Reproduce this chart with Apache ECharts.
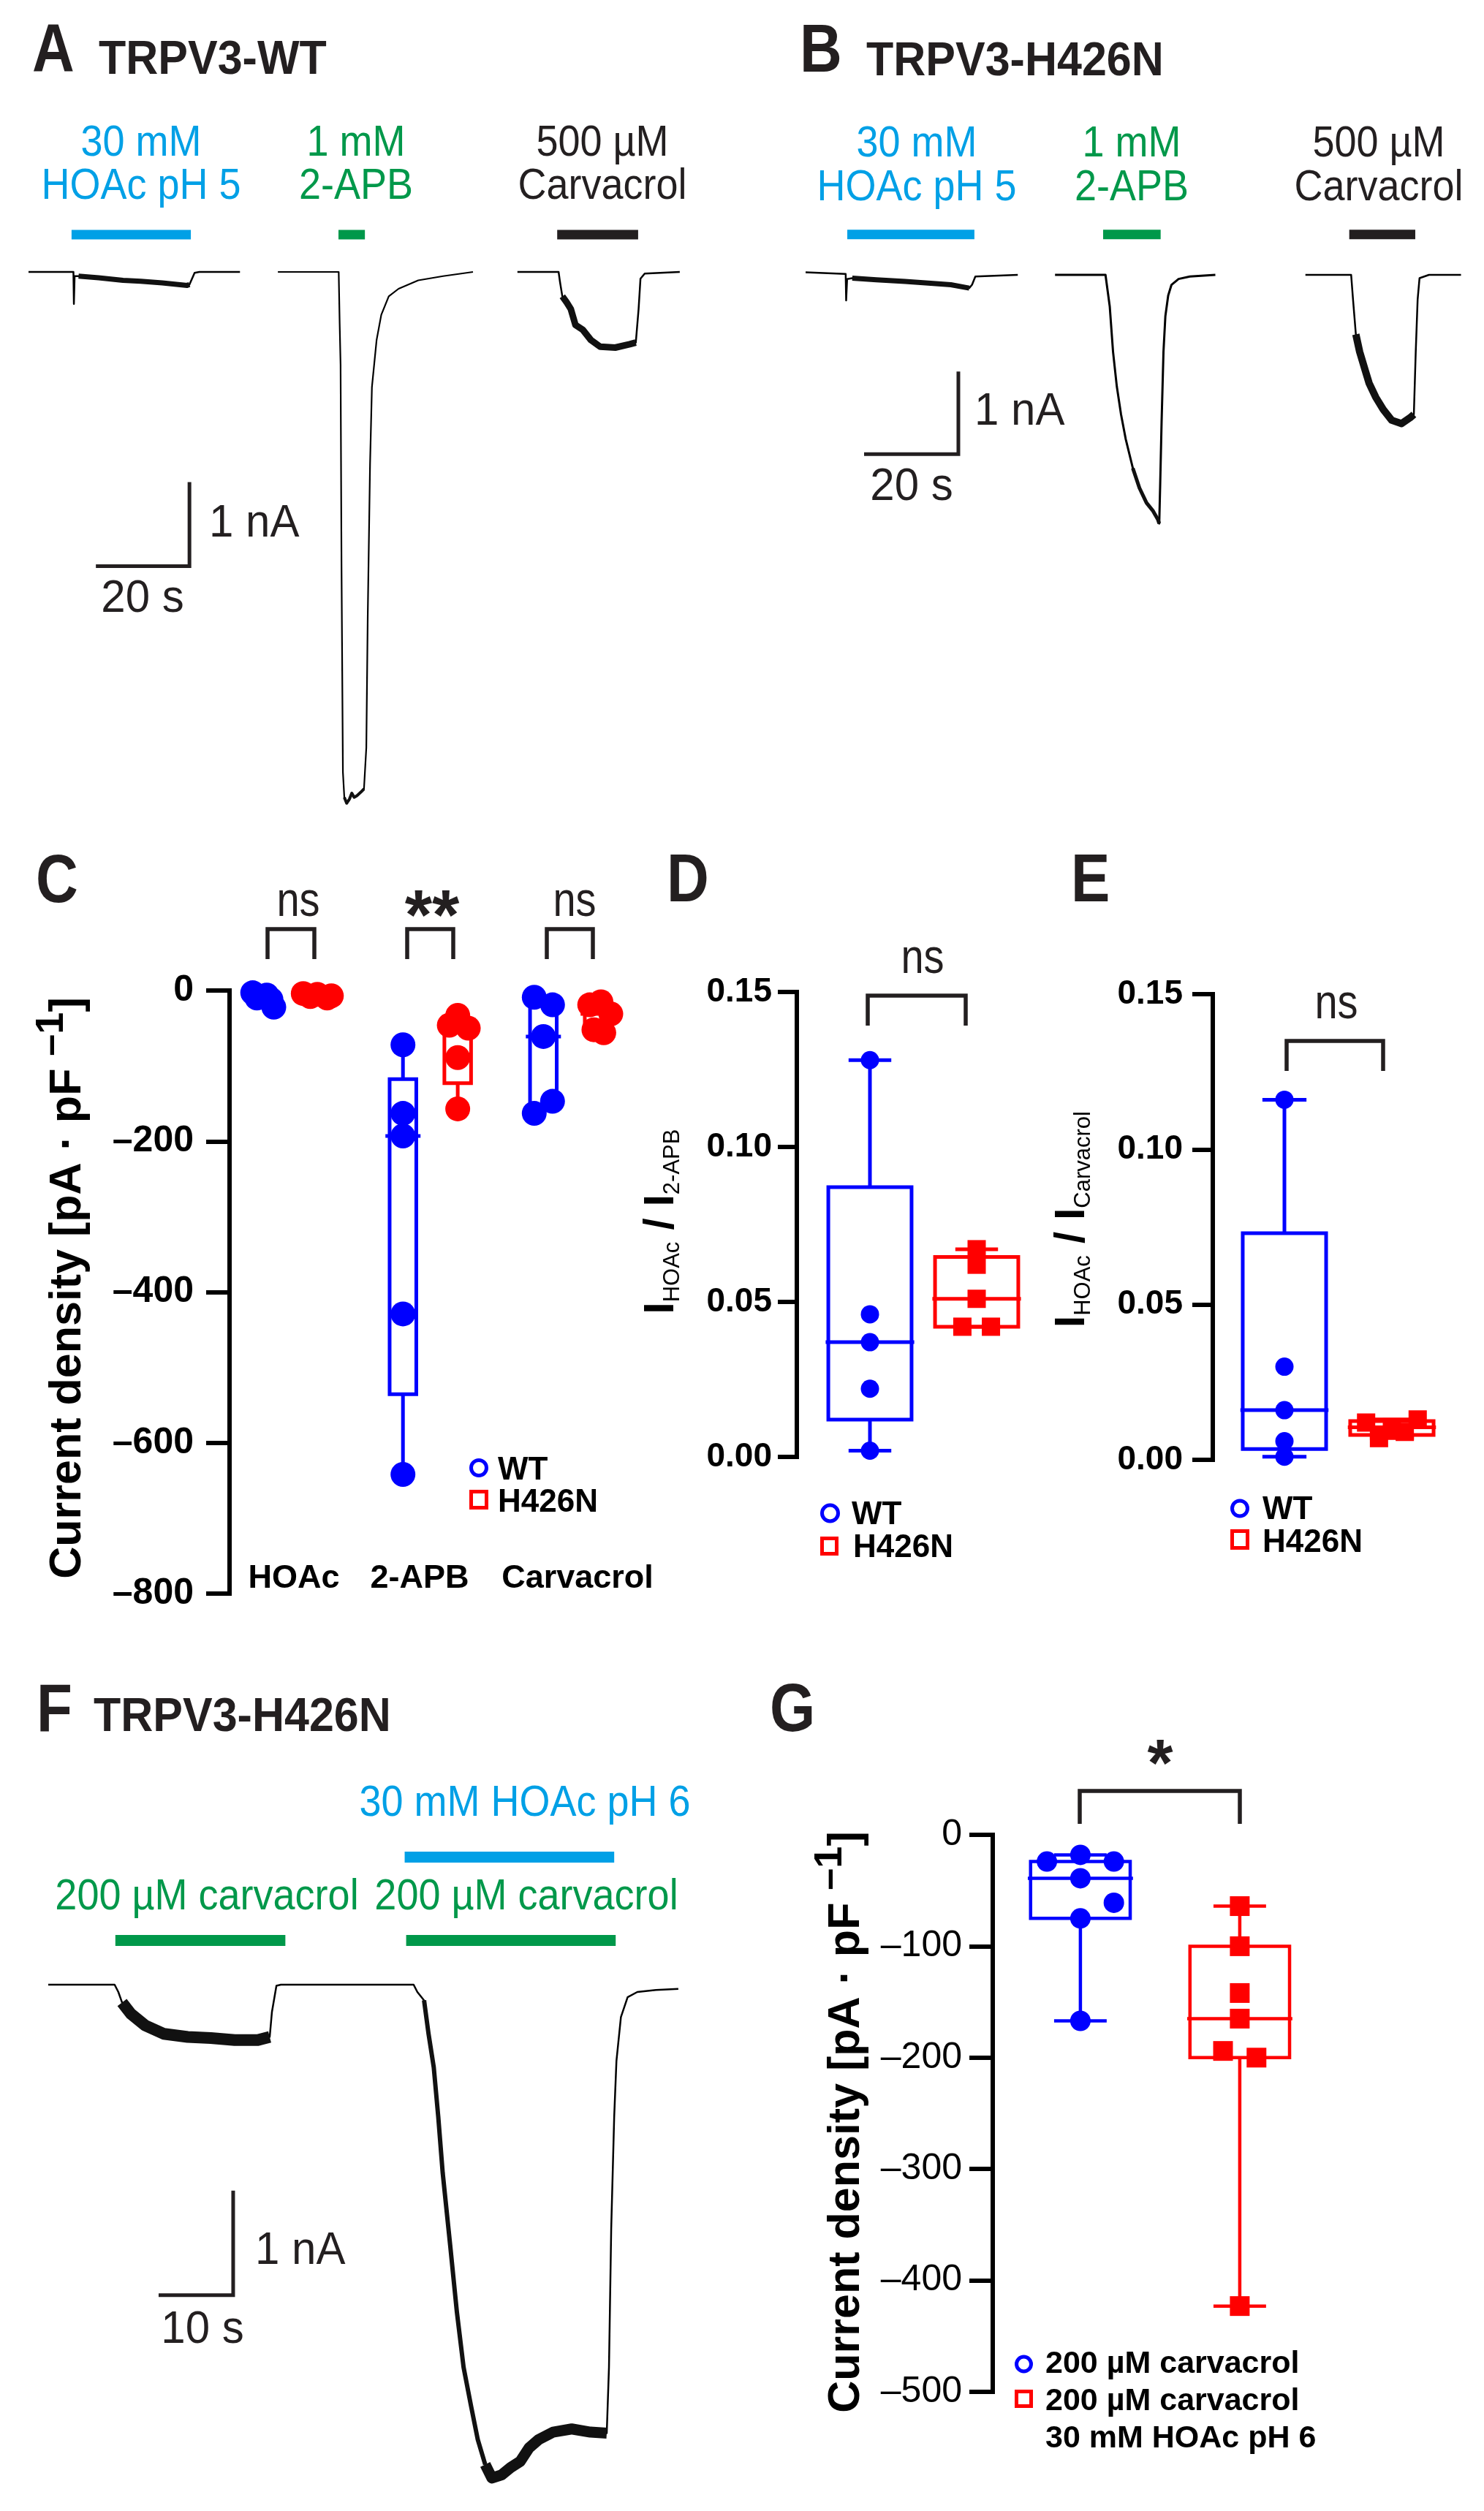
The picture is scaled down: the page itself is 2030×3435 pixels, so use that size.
<!DOCTYPE html>
<html><head><meta charset="utf-8">
<script src="https://cdn.jsdelivr.net/npm/echarts@6/dist/echarts.min.js"></script>
<style>html,body{margin:0;padding:0;background:#fff}#c{width:2030px;height:3435px}</style>
</head><body><div id="c"></div>
<script>
// ================= DATA =================
// Panel A – TRPV3-WT current traces: [time s, current nA]
const aTraceHoac = [[0,0],[9.6,0],[9.7,-0.38],[9.85,-0.05],[10.7,-0.05],[15,-0.07],[20.2,-0.1],[24,-0.11],[28.6,-0.13],[33.9,-0.16],[34.4,-0.15],[35.5,-0.01],[36.5,0],[45.2,0]];
const aTraceApb = [[53.3,0],[66.3,0],[66.5,-0.6],[66.7,-1.1],[66.9,-3.5],[67.2,-5.95],[67.5,-6.25],[68.0,-6.32],[68.6,-6.27],[69.1,-6.2],[69.6,-6.25],[70.2,-6.23],[71.0,-6.19],[71.7,-6.15],[72.2,-5.66],[72.5,-4.12],[73.0,-2.29],[73.4,-1.37],[74.4,-0.81],[75.4,-0.51],[77.0,-0.29],[79.1,-0.2],[83.3,-0.1],[88.6,-0.05],[95,0]];
const aTraceCarv = [[104.5,0],[113.3,0],[113.6,-0.12],[114.1,-0.29],[115.0,-0.36],[115.9,-0.44],[116.9,-0.63],[118.5,-0.69],[120.2,-0.81],[122.2,-0.89],[125.4,-0.9],[128.5,-0.86],[129.8,-0.84],[130.4,-0.44],[130.8,-0.08],[131.7,-0.02],[139.2,0]];
const aStimHoac = [9.2, 34.7], aStimApb = [66.25, 71.9], aStimCarv = [113.0, 130.3];
const aScaleBar = [[14.4,-3.5],[34.4,-3.5],[34.4,-2.5]];   // 20 s, 1 nA

// Panel B – TRPV3-H426N current traces
const bTraceHoac = [[0,0.03],[8.5,0.01],[8.6,-0.31],[8.8,-0.05],[9.9,-0.04],[15,-0.06],[21.1,-0.08],[26,-0.1],[30.8,-0.12],[34.7,-0.16],[35.3,-0.12],[36,-0.02],[40,-0.01],[45,0]];
const bTraceApb = [[52.9,0],[63.6,0],[64.5,-0.38],[65.2,-0.93],[66.0,-1.35],[66.9,-1.69],[67.9,-1.99],[69.4,-2.34],[70.8,-2.58],[72.3,-2.76],[73.7,-2.86],[74.7,-2.96],[75.0,-3.01],[75.2,-2.54],[75.5,-1.78],[75.9,-0.93],[76.3,-0.5],[76.9,-0.25],[77.6,-0.12],[79.1,-0.05],[81.5,-0.02],[86.9,0]];
const bTraceCarv = [[106,0],[115.7,0],[116.1,-0.3],[116.7,-0.72],[117.5,-0.93],[118.6,-1.14],[119.5,-1.31],[120.9,-1.48],[122.5,-1.63],[124.3,-1.76],[126.4,-1.8],[128.2,-1.73],[129.0,-1.69],[129.4,-0.93],[129.8,-0.3],[130.2,-0.04],[132.2,0],[139,0]];
const bStimHoac = [8.84, 35.8], bStimApb = [63.1, 75.3], bStimCarv = [115.3, 129.3];
const bScaleBar = [[12.4,-2.17],[32.4,-2.17],[32.4,-1.17]];

// Panel C – current density (pA/pF)
const cCategories = ['HOAc', '2-APB', 'Carvacrol'];
const cWT  = [[-3,-6,-10,-12,-22], [-72,-163,-193,-429,-642], [-9,-19,-61,-147,-163]];
const cMut = [[-4,-5,-7,-8,-10], [-33,-46,-50,-89,-157], [-15,-19,-31,-52,-56]];

// Panel D – I_HOAc / I_2-APB
const dWT  = [0.128, 0.046, 0.037, 0.022, 0.002];
const dMut = [0.067, 0.062, 0.051, 0.042, 0.042];
// Panel E – I_HOAc / I_Carvacrol
const eWT  = [0.116, 0.030, 0.016, 0.006, 0.001];
const eMut = [0.013, 0.012, 0.0105, 0.009, 0.007];

// Panel F – TRPV3-H426N trace
const fTrace = [[0,0],[8.9,0],[9.4,-0.07],[9.9,-0.17],[11.1,-0.28],[13.0,-0.39],[15.5,-0.47],[18.7,-0.5],[21.8,-0.51],[25.0,-0.53],[28.1,-0.53],[29.7,-0.5],[30.0,-0.26],[30.6,-0.01],[31.2,0],[49.0,0],[49.5,-0.07],[50.4,-0.15],[51.0,-0.47],[51.7,-0.79],[52.3,-1.26],[52.9,-1.8],[53.9,-2.49],[54.8,-3.13],[55.7,-3.66],[56.7,-4.03],[57.6,-4.35],[58.6,-4.59],[59.5,-4.72],[60.8,-4.69],[62.0,-4.62],[63.3,-4.56],[64.5,-4.43],[65.8,-4.35],[67.7,-4.28],[70.2,-4.25],[72.7,-4.28],[74.9,-4.29],[75.2,-3.66],[75.5,-2.33],[75.9,-1.26],[76.2,-0.73],[76.8,-0.31],[77.7,-0.12],[79.0,-0.07],[81.5,-0.05],[84.5,-0.04]];
const fStimHoac = [47.8, 75.9], fStimCarv1 = [9.0, 31.8], fStimCarv2 = [48.0, 76.1];
const fScaleBar = [[14.8,-2.97],[24.8,-2.97],[24.8,-1.97]];   // 10 s, 1 nA

// Panel G – current density (pA/pF)
const gWT  = [-18, -24, -24, -39, -61, -75, -167];
const gMut = [-64, -100, -142, -165, -194, -200, -423];

// ================= LAYOUT / STYLE =================
const FF = '"Liberation Sans", Arial, Helvetica, sans-serif';
const BLUE = '#0000FF', RED = '#FF0000', INK = '#231F20';
const STIM_BLUE = '#00A0E6', STIM_GREEN = '#00984A';
const A_STIM_Y = 0.443, B_STIM_Y = 0.49, F_BLUE_Y = 1.22, F_GREEN_Y = 0.423;
// horizontal scatter offsets (axis units) used to avoid overlap
const cWTJit  = [[-0.07,0.03,-0.04,0.06,0.08],[0,0,0,0,0],[-0.065,0.065,0,0.065,-0.065]];
const cMutJit = [[-0.1,0,0.1,-0.05,0.07],[0,-0.06,0.075,0,0],[0.02,-0.06,0.09,-0.03,0.04]];
const dMutJit = [0,0,0,-0.134,0.134];
const eMutJit = [0.24,-0.24,0,0.12,-0.12];
const gWTJit  = [0,-0.21,0.21,0,0.21,0,0];
const gMutJit = [0,0,0,0,-0.105,0.105,0];

const grids = [], xAxes = [], yAxes = [], series = [], graphics = [];
function addGrid(g, x, y) {
  grids.push(Object.assign({outerBoundsMode: 'none', containLabel: false, show: false}, g));
  const i = grids.length - 1;
  xAxes.push(Object.assign({gridIndex: i}, x));
  yAxes.push(Object.assign({gridIndex: i}, y));
  return i;
}
const hidden = (min, max) => ({type: 'value', min, max, show: false, splitLine: {show: false}});
function boxY(o) {
  return {type: 'value', min: o.min, max: o.max, interval: o.interval,
    axisLine: {show: true, onZero: false, lineStyle: {color: '#000', width: 6, cap: 'square'}},
    axisTick: {show: true, length: o.tick, lineStyle: {color: '#000', width: 6}},
    splitLine: {show: false},
    axisLabel: {show: true, margin: o.margin, color: '#000', fontFamily: FF, fontSize: o.size,
      fontWeight: o.bold ? 'bold' : 'normal', showMinLabel: true, showMaxLabel: true, formatter: o.fmt}};
}
const dashFmt = v => v === 0 ? '0' : (v < 0 ? '\u2013' + Math.abs(v) : String(v));

function trace(gi, data, w, color) {
  return {type: 'line', xAxisIndex: gi, yAxisIndex: gi, data, showSymbol: false, symbol: 'none',
    silent: true, clip: false, z: 3, animation: false,
    lineStyle: {color: color || '#000', width: w, join: 'round', cap: 'butt'}};
}
function band(gi, data, t0, t1, w) {
  return trace(gi, data.filter(p => p[0] >= t0 && p[0] <= t1), w, '#111');
}
function stim(gi, span, level, color, w) {
  return {type: 'line', xAxisIndex: gi, yAxisIndex: gi, data: [[span[0], level], [span[1], level]],
    showSymbol: false, symbol: 'none', silent: true, clip: false, z: 3,
    lineStyle: {color, width: w, cap: 'butt'}};
}
function scaleBar(gi, pts) {
  return {type: 'line', xAxisIndex: gi, yAxisIndex: gi, data: pts, showSymbol: false, symbol: 'none',
    silent: true, clip: false, z: 3, lineStyle: {color: INK, width: 5, join: 'miter', cap: 'butt'}};
}
function quartiles(arr) {
  const s = [...arr].sort((a, b) => a - b), n = s.length;
  const at = k => s[Math.min(Math.max(k, 1), n) - 1];
  const q = p => { const pos = (n + 1) * p, lo = Math.floor(pos), f = pos - lo; return at(lo) + (at(lo + 1) - at(lo)) * f; };
  return [s[0], q(0.25), q(0.5), q(0.75), s[n - 1]];
}
function boxSeries(gi, xPos, values, color, st) {
  const qs = quartiles(values);
  return {type: 'custom', xAxisIndex: gi, yAxisIndex: gi, z: 2, silent: true, clip: false,
    data: [[xPos].concat(qs)], encode: {x: 0, y: [1, 2, 3, 4, 5]},
    renderItem: (params, api) => {
      const x = api.value(0);
      const py = v => api.coord([x, v])[1];
      const cx = api.coord([x, api.value(3)])[0];
      const w = api.size([st.box, 0])[0], mw = api.size([st.med, 0])[0], cw = api.size([st.cap, 0])[0];
      const yMn = py(api.value(1)), yQ1 = py(api.value(2)), yMd = py(api.value(3)), yQ3 = py(api.value(4)), yMx = py(api.value(5));
      const top = Math.min(yQ1, yQ3), bot = Math.max(yQ1, yQ3);
      const yHi = Math.min(yMn, yMx), yLo = Math.max(yMn, yMx);
      const s = {stroke: color, lineWidth: st.lw, fill: 'none'};
      const ch = [
        {type: 'rect', shape: {x: cx - w / 2, y: top, width: w, height: bot - top}, style: s},
        {type: 'line', shape: {x1: cx, y1: yHi, x2: cx, y2: top}, style: s},
        {type: 'line', shape: {x1: cx, y1: bot, x2: cx, y2: yLo}, style: s},
        {type: 'line', shape: {x1: cx - mw / 2, y1: yMd, x2: cx + mw / 2, y2: yMd}, style: s}
      ];
      if (st.cap > 0) {
        ch.push({type: 'line', shape: {x1: cx - cw / 2, y1: yHi, x2: cx + cw / 2, y2: yHi}, style: s});
        ch.push({type: 'line', shape: {x1: cx - cw / 2, y1: yLo, x2: cx + cw / 2, y2: yLo}, style: s});
      }
      return {type: 'group', children: ch};
    }};
}
function dots(gi, xPos, values, jit, color, symbol, size) {
  return {type: 'scatter', xAxisIndex: gi, yAxisIndex: gi, z: 4, silent: true, clip: false,
    symbol, symbolSize: size, itemStyle: {color, opacity: 1, borderWidth: 0},
    data: values.map((v, i) => [xPos + (jit ? jit[i] : 0), v])};
}

// ---- text helpers (graphic) ----
function T(x, y, text, o) {
  return {type: 'text', x, y, scaleY: o.sy || 1, rotation: o.rot || 0, silent: true, z: 10,
    style: {text, fill: o.color || INK, font: (o.bold ? 'bold ' : '') + o.size + 'px ' + FF,
      textAlign: o.align || 'left', align: o.align || 'left',
      textVerticalAlign: 'middle', verticalAlign: 'middle', rich: o.rich}};
}
function bracket(x1, x2, yTop, yBot) {
  return {type: 'polyline', silent: true, z: 10, shape: {points: [[x1, yBot], [x1, yTop], [x2, yTop], [x2, yBot]]},
    style: {stroke: INK, lineWidth: 5.5, fill: 'none', lineJoin: 'miter'}};
}
function circ(cx, cy, r, color) {
  return {type: 'circle', silent: true, z: 10, shape: {cx, cy, r}, style: {fill: 'none', stroke: color, lineWidth: 5}};
}
function sq(x, y, w, h, color) {
  return {type: 'rect', silent: true, z: 10, shape: {x, y, width: w, height: h}, style: {fill: 'none', stroke: color, lineWidth: 5}};
}

// ================= PANEL A =================
const gA = addGrid({left: 39, top: 257, width: 896, height: 862.5}, hidden(0, 140), hidden(-6.5, 1));
series.push(trace(gA, aTraceHoac, 2.5), band(gA, aTraceHoac, 10.7, 34.4, 7),
  trace(gA, aTraceApb, 2.2), band(gA, aTraceApb, 67.5, 71.7, 4),
  trace(gA, aTraceCarv, 2.5), band(gA, aTraceCarv, 114.1, 129.8, 9),
  stim(gA, aStimHoac, A_STIM_Y, STIM_BLUE, 13), stim(gA, aStimApb, A_STIM_Y, STIM_GREEN, 13),
  stim(gA, aStimCarv, A_STIM_Y, INK, 13), scaleBar(gA, aScaleBar));

// ================= PANEL B =================
const gB = addGrid({left: 1102, top: 263, width: 903, height: 565}, hidden(0, 140), hidden(-4, 1));
series.push(trace(gB, bTraceHoac, 2.5), band(gB, bTraceHoac, 9.9, 34.7, 7),
  trace(gB, bTraceApb, 3), band(gB, bTraceApb, 69.4, 75.0, 5),
  trace(gB, bTraceCarv, 2.5), band(gB, bTraceCarv, 116.7, 129.0, 10),
  stim(gB, bStimHoac, B_STIM_Y, STIM_BLUE, 13), stim(gB, bStimApb, B_STIM_Y, STIM_GREEN, 13),
  stim(gB, bStimCarv, B_STIM_Y, INK, 13), scaleBar(gB, bScaleBar));

// ================= PANEL C =================
const gC = addGrid({left: 314, top: 1355, width: 582, height: 825}, hidden(0.57, 3.6),
  boxY({min: -800, max: 0, interval: 200, tick: 32, margin: 49, size: 50, bold: true, fmt: dashFmt}));
const cStyle = {box: 0.19, med: 0.25, cap: 0, lw: 5};
cCategories.forEach((c, i) => {
  series.push(boxSeries(gC, i + 1 - 0.195, cWT[i], BLUE, cStyle), boxSeries(gC, i + 1 + 0.195, cMut[i], RED, cStyle),
    dots(gC, i + 1 - 0.195, cWT[i], cWTJit[i], BLUE, 'circle', 34), dots(gC, i + 1 + 0.195, cMut[i], cMutJit[i], RED, 'circle', 34));
});

// ================= PANEL D =================
const gD = addGrid({left: 1090, top: 1357, width: 333.6, height: 636}, hidden(0.315, 2.6),
  boxY({min: 0, max: 0.15, interval: 0.05, tick: 26, margin: 34, size: 46, bold: true, fmt: v => v.toFixed(2)}));
const dStyle = {box: 0.78, med: 0.83, cap: 0.40, lw: 5};
series.push(boxSeries(gD, 1, dWT, BLUE, dStyle), boxSeries(gD, 2, dMut, RED, dStyle),
  dots(gD, 1, dWT, null, BLUE, 'circle', 25), dots(gD, 2, dMut, dMutJit, RED, 'rect', 25));

// ================= PANEL E =================
const gE = addGrid({left: 1659, top: 1360, width: 333.2, height: 637}, hidden(0.3333, 2.6),
  boxY({min: 0, max: 0.15, interval: 0.05, tick: 28, margin: 41, size: 46, bold: true, fmt: v => v.toFixed(2)}));
const eStyle = {box: 0.776, med: 0.82, cap: 0.41, lw: 5};
series.push(boxSeries(gE, 1, eWT, BLUE, eStyle), boxSeries(gE, 2, eMut, RED, eStyle),
  dots(gE, 1, eWT, null, BLUE, 'circle', 25), dots(gE, 2, eMut, eMutJit, RED, 'rect', 25));

// ================= PANEL F =================
const gF = addGrid({left: 66, top: 2500.5, width: 877.2, height: 929.5}, hidden(0, 86), hidden(-5, 1.5));
series.push(trace(gF, fTrace, 2.5), band(gF, fTrace, 9.9, 29.7, 16), band(gF, fTrace, 50.4, 58.6, 6),
  band(gF, fTrace, 58.6, 74.9, 15),
  stim(gF, fStimHoac, F_BLUE_Y, STIM_BLUE, 15), stim(gF, fStimCarv1, F_GREEN_Y, STIM_GREEN, 15),
  stim(gF, fStimCarv2, F_GREEN_Y, STIM_GREEN, 15), scaleBar(gF, fScaleBar));

// ================= PANEL G =================
const gG = addGrid({left: 1358, top: 2510, width: 446.9, height: 762}, hidden(0.45, 2.5),
  boxY({min: -500, max: 0, interval: 100, tick: 32, margin: 42, size: 50, bold: false, fmt: dashFmt}));
const gStyle = {box: 0.625, med: 0.66, cap: 0.33, lw: 4.5};
series.push(boxSeries(gG, 1, gWT, BLUE, gStyle), boxSeries(gG, 2, gMut, RED, gStyle),
  dots(gG, 1, gWT, gWTJit, BLUE, 'circle', 28), dots(gG, 2, gMut, gMutJit, RED, 'rect', 27));

// ================= TEXT / ANNOTATIONS =================
const L = {size: 80, bold: true, sy: 1.15};
graphics.push(T(44, 72, 'A', L), T(1094, 73, 'B', L), T(49, 1209, 'C', L), T(912, 1208, 'D', L),
  T(1465, 1208, 'E', L), T(50, 2343, 'F', L), T(1053, 2343, 'G', L));
const TT = {size: 61, bold: true, sy: 1.07};
graphics.push(T(135, 83, 'TRPV3-WT', TT), T(1185, 85, 'TRPV3-H426N', TT), T(128, 2350, 'TRPV3-H426N', TT));
const S = (color) => ({size: 54, sy: 1.08, align: 'center', color});
graphics.push(
  T(193, 197, '30 mM', S(STIM_BLUE)), T(193, 256, 'HOAc pH 5', S(STIM_BLUE)),
  T(487, 197, '1 mM', S(STIM_GREEN)), T(487, 256, '2-APB', S(STIM_GREEN)),
  T(824, 197, '500 \u00b5M', S(INK)), T(824, 256, 'Carvacrol', S(INK)),
  T(1254, 198, '30 mM', S(STIM_BLUE)), T(1254, 258, 'HOAc pH 5', S(STIM_BLUE)),
  T(1548, 198, '1 mM', S(STIM_GREEN)), T(1548, 258, '2-APB', S(STIM_GREEN)),
  T(1886, 198, '500 \u00b5M', S(INK)), T(1886, 258, 'Carvacrol', S(INK)),
  T(718, 2468, '30 mM HOAc pH 6', S(STIM_BLUE)),
  T(283, 2596, '200 \u00b5M carvacrol', S(STIM_GREEN)), T(720, 2596, '200 \u00b5M carvacrol', S(STIM_GREEN)));
const SB = {size: 60, sy: 1.04};
graphics.push(T(286, 717, '1 nA', SB), T(195, 820, '20 s', Object.assign({align: 'center'}, SB)),
  T(1333, 564, '1 nA', SB), T(1247, 667, '20 s', Object.assign({align: 'center'}, SB)),
  T(349, 3080, '1 nA', SB), T(277, 3188, '10 s', Object.assign({align: 'center'}, SB)));

// category labels C
const cLabelX = [402, 574, 790];
cCategories.forEach((c, i) => graphics.push(T(cLabelX[i], 2160, c, {size: 45, bold: true, align: 'center', color: '#000'})));

// axis titles
const densRich = {
  b: {font: 'bold 61px ' + FF, fill: '#000', lineHeight: 80, verticalAlign: 'bottom'},
  s: {font: 'bold 54px ' + FF, fill: '#000', lineHeight: 20, verticalAlign: 'top'}
};
graphics.push(T(84, 1762, '{b|Current density [pA \u00b7 pF }{s|\u20131}{b|]}', {size: 61, bold: true, align: 'center', rot: Math.PI / 2, rich: densRich, color: '#000'}));
graphics.push(T(1149, 2903, '{b|Current density [pA \u00b7 pF }{s|\u20131}{b|]}', {size: 61, bold: true, align: 'center', rot: Math.PI / 2, rich: densRich, color: '#000'}));
const ratioRich = {
  m: {font: 'bold 58px ' + FF, fill: '#000', lineHeight: 60, verticalAlign: 'top'},
  s: {font: '31px ' + FF, fill: '#000', lineHeight: 16, verticalAlign: 'bottom'}
};
graphics.push(T(906, 1671, '{m|I}{s|HOAc}{m| / I}{s|2-APB}', {size: 58, bold: true, align: 'center', rot: Math.PI / 2, rich: ratioRich, color: '#000'}));
graphics.push(T(1468, 1668, '{m|I}{s|HOAc}{m| / I}{s|Carvacrol}', {size: 58, bold: true, align: 'center', rot: Math.PI / 2, rich: ratioRich, color: '#000'}));

// significance
const NS = {size: 56, sy: 1.2, align: 'center'};
graphics.push(bracket(366, 430, 1271, 1312), T(408, 1234, 'ns', NS),
  bracket(557, 620, 1271, 1312), T(591, 1258, '**', {size: 96, bold: true, align: 'center'}),
  bracket(748, 811, 1271, 1312), T(786, 1234, 'ns', NS),
  bracket(1187, 1321, 1362, 1403), T(1262, 1312, 'ns', NS),
  bracket(1760, 1892, 1424, 1465), T(1828, 1374, 'ns', NS),
  bracket(1477, 1696, 2450, 2495), T(1587, 2418, '*', {size: 90, bold: true, align: 'center'}));

// legends
const LG = {size: 44, bold: true, color: '#000'};
graphics.push(circ(655, 2008, 10.5, BLUE), T(681, 2012, 'WT', LG), sq(644.5, 2040.5, 21, 22, RED), T(681, 2056, 'H426N', LG));
graphics.push(circ(1135.5, 2070, 11, BLUE), T(1165, 2073, 'WT', LG), sq(1124.5, 2104.5, 20, 21, RED), T(1167, 2118, 'H426N', LG));
graphics.push(circ(1696, 2063.5, 10.5, BLUE), T(1727, 2066, 'WT', LG), sq(1685.5, 2094.5, 21, 23, RED), T(1727, 2111, 'H426N', LG));
const LG2 = {size: 43, bold: true, color: '#000'};
graphics.push(circ(1400.5, 3234, 10, BLUE), T(1430, 3234, '200 \u00b5M carvacrol', LG2),
  sq(1390.5, 3271.5, 20, 20, RED), T(1430, 3285, '200 \u00b5M carvacrol', LG2), T(1430, 3336, '30 mM HOAc pH 6', LG2));

const chart = echarts.init(document.getElementById('c'), null, {renderer: 'canvas', width: 2030, height: 3435});
chart.setOption({
  backgroundColor: '#fff', animation: false,
  textStyle: {fontFamily: FF},
  grid: grids, xAxis: xAxes, yAxis: yAxes, series, graphic: graphics
});
</script></body></html>
